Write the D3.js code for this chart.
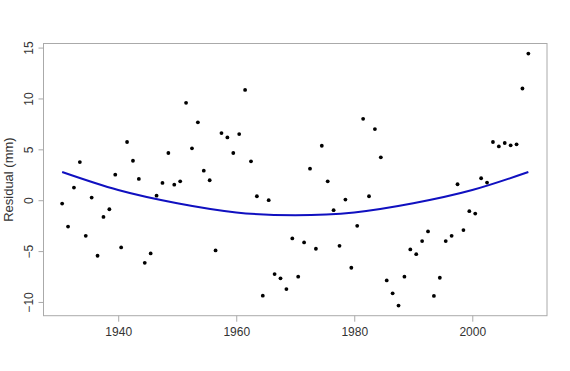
<!DOCTYPE html>
<html>
<head>
<meta charset="utf-8">
<script src="https://cdn.jsdelivr.net/npm/d3@7"></script>
<style>
body { margin: 0; background: #fff; }
text { font-family: "Liberation Sans", Arial, sans-serif; fill: #333; }
</style>
</head>
<body>
<div id="chart"></div>
<script>
var width = 570;
var height = 371;

// years (mid-year) and residuals
var years = d3.range(1930.5, 2010, 1);
var residuals = [
	-0.33, -2.59, 1.24, 3.75, -3.5, 0.26, -5.46, -1.64, -0.89, 2.51,
	-4.64, 5.72, 3.88, 2.09, -6.15, -5.23, 0.45, 1.7, 4.64, 1.53,
	1.86, 9.57, 5.1, 7.65, 2.9, 1.96, -4.94, 6.6, 6.17, 4.64,
	6.5, 10.84, 3.82, 0.39, -9.38, 0.0, -7.26, -7.68, -8.73, -3.76,
	-7.52, -4.15, 3.1, -4.77, 5.35, 1.86, -0.98, -4.48, 0.06, -6.64,
	-2.52, 8.0, 0.39, 6.99, 4.21, -7.88, -9.15, -10.36, -7.52, -4.84,
	-5.3, -4.02, -3.07, -9.41, -7.62, -4.02, -3.5, 1.57, -2.94, -1.08,
	-1.31, 2.16, 1.73, 5.72, 5.29, 5.62, 5.39, 5.49, 10.98, 14.41
];

// smooth trend line, sampled from the plot
var trendYears = [1930.5, 1940, 1950, 1960, 1970, 1980, 1990, 2000, 2009.5];
var trendValues = [2.77, 1.0, -0.3, -1.2, -1.47, -1.2, -0.3, 1.0, 2.77];

var xTicks = [1940, 1960, 1980, 2000];
var yTicks = [-10, -5, 0, 5, 10, 15];

var margin = {left: 43.5, right: 23, top: 43.5, bottom: 55.3};

window.onload = start;

function start() {
	var points = years.map(function(y, i) { return {year: y, value: residuals[i]}; });
	var trend = trendYears.map(function(y, i) { return {year: y, value: trendValues[i]}; });

	// R style 4% padding on both axes
	var xExt = d3.extent(years);
	var xPad = (xExt[1] - xExt[0]) * 0.04;
	var yExt = d3.extent(residuals);
	var yPad = (yExt[1] - yExt[0]) * 0.04;

	var xScale = d3.scaleLinear().domain([xExt[0] - xPad, xExt[1] + xPad]).range([margin.left, width - margin.right]);
	var yScale = d3.scaleLinear().domain([yExt[0] - yPad, yExt[1] + yPad]).range([height - margin.bottom, margin.top]);

	var chart = d3.select("#chart")
		.append("svg")
		.attr("width", width)
		.attr("height", height);

	// box
	chart.append("rect")
		.attr("x", margin.left)
		.attr("y", margin.top)
		.attr("width", width - margin.right - margin.left)
		.attr("height", height - margin.bottom - margin.top)
		.attr("fill", "none")
		.attr("stroke", "#aaa")
		.attr("stroke-width", 1);

	// x axis
	var xAxis = d3.axisBottom(xScale).tickValues(xTicks).tickSize(6).tickPadding(6).tickFormat(d3.format("d"));
	var gx = chart.append("g")
		.attr("transform", "translate(0," + (height - margin.bottom) + ")")
		.call(xAxis);
	gx.select(".domain").remove();
	gx.selectAll("line").attr("stroke", "#aaa");
	gx.selectAll("text").attr("font-size", 12).style("fill", "#333");

	// y axis, labels rotated like R
	var yAxis = d3.axisLeft(yScale).tickValues(yTicks).tickSize(5).tickFormat(d3.format("d"));
	var gy = chart.append("g")
		.attr("transform", "translate(" + margin.left + ",0)")
		.call(yAxis);
	gy.select(".domain").remove();
	gy.selectAll("line").attr("stroke", "#aaa");
	gy.selectAll("text")
		.attr("font-size", 12)
		.attr("x", null)
		.attr("dy", null)
		.style("fill", "#333")
		.attr("text-anchor", "middle")
		.attr("transform", "translate(-10.5,0) rotate(-90)");

	chart.append("text")
		.attr("transform", "translate(12.5," + ((margin.top + height - margin.bottom) / 2) + ") rotate(-90)")
		.attr("text-anchor", "middle")
		.attr("font-size", 13)
		.text("Residual (mm)");

	// trend line
	var line = d3.line()
		.x(function(d) { return xScale(d.year); })
		.y(function(d) { return yScale(d.value); })
		.curve(d3.curveNatural);

	chart.append("path")
		.datum(trend)
		.attr("d", line)
		.attr("fill", "none")
		.attr("stroke", "#1010c0")
		.attr("stroke-width", 2);

	// points
	chart.selectAll("circle")
		.data(points)
		.enter()
		.append("circle")
		.attr("cx", function(d) { return xScale(d.year); })
		.attr("cy", function(d) { return yScale(d.value); })
		.attr("r", 1.9)
		.attr("fill", "black");
}
</script>
</body>
</html>
